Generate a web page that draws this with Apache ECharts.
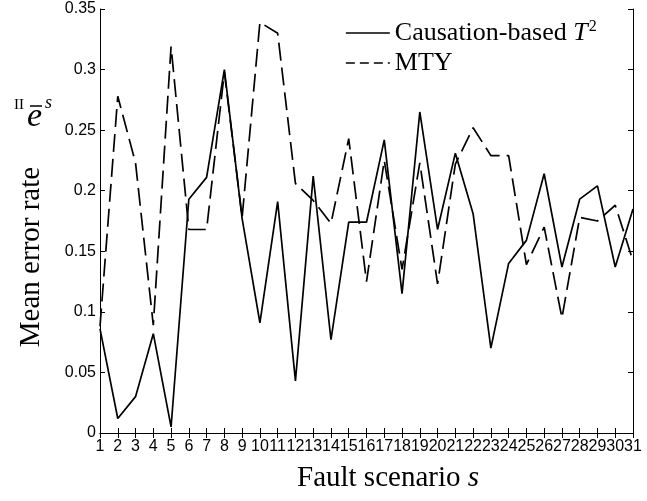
<!DOCTYPE html>
<html><head><meta charset="utf-8">
<script src="https://cdn.jsdelivr.net/npm/echarts@6/dist/echarts.min.js"></script>
<style>html,body{margin:0;padding:0;background:#fff}#c{width:647px;height:501px}</style>
</head><body><div id="c"></div>
<script>
const scenarios = ['1','2','3','4','5','6','7','8','9','10','11','12','13','14','15','16','17','18','19','20','21','22','23','24','25','26','27','28','29','30','31'];
const causationT2 = [0.086,0.012,0.030,0.082,0.005,0.193,0.211,0.300,0.177,0.091,0.191,0.043,0.212,0.077,0.174,0.174,0.242,0.115,0.265,0.168,0.231,0.181,0.070,0.140,0.159,0.214,0.137,0.193,0.204,0.137,0.185];
const mtyValues = [0.088,0.278,0.223,0.089,0.319,0.168,0.168,0.298,0.178,0.339,0.330,0.206,0.192,0.173,0.243,0.125,0.225,0.135,0.223,0.123,0.222,0.252,0.229,0.229,0.139,0.170,0.095,0.178,0.175,0.188,0.142];
const yMin = 0, yMax = 0.35, yStep = 0.05;
const seriesNames = ['Causation-based T2', 'MTY'];

const serif = '"Liberation Serif", "Times New Roman", serif';
const sans = '"Liberation Sans", Arial, sans-serif';
const chart = echarts.init(document.getElementById('c'), null, {renderer: 'canvas'});
const axisLine = {show: true, lineStyle: {color: '#000', width: 1}};
const tick = {show: true, inside: true, length: 5, lineStyle: {color: '#000', width: 1}};
chart.setOption({
  animation: false,
  backgroundColor: '#fff',
  grid: {left: 100, right: 14, top: 9, bottom: 68, containLabel: false},
  xAxis: [
    {type: 'category', data: scenarios, boundaryGap: false, position: 'bottom',
     axisLine: axisLine, axisTick: Object.assign({interval: 0}, tick),
     axisLabel: {interval: 0, margin: 6, color: '#000', fontFamily: sans, fontSize: 16, hideOverlap: false},
     splitLine: {show: false}},
    {type: 'category', data: scenarios, boundaryGap: false, position: 'top',
     axisLine: axisLine, axisTick: Object.assign({interval: 0}, tick),
     axisLabel: {show: false}, splitLine: {show: false}}
  ],
  yAxis: [
    {type: 'value', min: yMin, max: yMax, interval: yStep, position: 'left',
     axisLine: axisLine, axisTick: tick,
     axisLabel: {margin: 4, color: '#000', fontFamily: sans, fontSize: 16},
     splitLine: {show: false}},
    {type: 'value', min: yMin, max: yMax, interval: yStep, position: 'right',
     axisLine: axisLine, axisTick: tick, axisLabel: {show: false}, splitLine: {show: false}}
  ],
  legend: {
    orient: 'vertical', left: 340, top: 14, itemWidth: 44, itemHeight: 14, itemGap: 2,
    itemStyle: {opacity: 0, borderWidth: 0},
    data: [
      {name: seriesNames[0], itemStyle: {opacity: 0, borderWidth: 0}, lineStyle: {type: 'solid', width: 1.7, color: '#000'}},
      {name: seriesNames[1], itemStyle: {opacity: 0, borderWidth: 0}, lineStyle: {type: [9, 5], width: 1.7, color: '#000'}}
    ],
    formatter: function (n) {
      if (n === seriesNames[0]) return '{n|Causation-based }{i|T}{s|2}';
      return '{n|' + n + '}';
    },
    textStyle: {
      color: '#000', fontFamily: serif, fontSize: 26, lineHeight: 28,
      rich: {
        n: {fontFamily: serif, fontSize: 26, color: '#000', lineHeight: 28},
        i: {fontFamily: serif, fontSize: 26, fontStyle: 'italic', color: '#000', lineHeight: 28},
        s: {fontFamily: serif, fontSize: 16, color: '#000', lineHeight: 28, padding: [0, 0, 12, 1]}
      }
    }
  },
  series: [
    {name: seriesNames[0], type: 'line', data: causationT2, symbol: 'none', showSymbol: false, xAxisIndex: 0, yAxisIndex: 0,
     lineStyle: {color: '#000', width: 1.7, type: 'solid'}, itemStyle: {color: '#000'}},
    {name: seriesNames[1], type: 'line', data: mtyValues, symbol: 'none', showSymbol: false, xAxisIndex: 0, yAxisIndex: 0,
     lineStyle: {color: '#000', width: 1.7, type: [18, 7]}, itemStyle: {color: '#000'}}
  ],
  graphic: [
    {type: 'text', x: 297, y: 493,
     style: {text: '{n|Fault scenario }{i|s}', fill: '#000', verticalAlign: 'bottom',
       rich: {n: {font: '29px ' + serif, fill: '#000'}, i: {font: 'italic 29px ' + serif, fill: '#000'}}}},
    {type: 'text', x: 31, y: 257, rotation: Math.PI / 2,
     style: {text: 'Mean error rate', font: '29px ' + serif, fill: '#000', align: 'center', verticalAlign: 'middle'}},
    {type: 'text', x: 14, y: 98, style: {text: 'II', font: '15px ' + serif, fill: '#000'}},
    {type: 'text', x: 27, y: 100, style: {text: 'e', font: 'italic 34px ' + serif, fill: '#000'}},
    {type: 'line', shape: {x1: 30, y1: 106, x2: 42, y2: 106}, style: {stroke: '#000', lineWidth: 1.5}},
    {type: 'text', x: 45, y: 94, style: {text: 's', font: 'italic 18px ' + serif, fill: '#000'}}
  ]
});
</script>
</body></html>
